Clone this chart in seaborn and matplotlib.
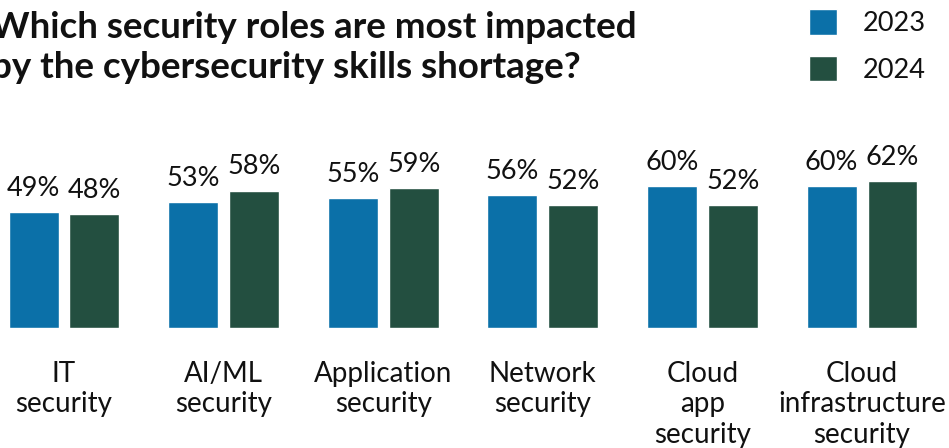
import matplotlib
matplotlib.use("Agg")
import matplotlib.pyplot as plt
import seaborn as sns
import pandas as pd

categories = ["IT\nsecurity", "AI/ML\nsecurity", "Application\nsecurity",
              "Network\nsecurity", "Cloud\napp\nsecurity", "Cloud\ninfrastructure\nsecurity"]
years = ["2023", "2024"]
values_2023 = [49, 53, 55, 56, 60, 60]
values_2024 = [48, 58, 59, 52, 52, 62]
colors = ["#0B70A8", "#234F40"]

df = pd.DataFrame({
    "role": categories * 2,
    "year": ["2023"] * len(categories) + ["2024"] * len(categories),
    "value": values_2023 + values_2024,
})

sns.set_theme(style="white")
plt.rcParams["font.family"] = ["Lato", "DejaVu Sans"]

fig = plt.figure(figsize=(9.49, 4.48), dpi=100)
ax = fig.add_axes([0, 0.268, 1, 0.37])

sns.barplot(data=df, x="role", y="value", hue="year", hue_order=years,
            palette=colors, width=0.764, gap=0.18, saturation=1, ax=ax,
            legend=True, errorbar=None)

ax.set_xlim(-0.401, 5.545)
ax.set_ylim(0, 70)
for c in ax.containers:
    ax.bar_label(c, labels=[f"{int(v)}%" for v in c.datavalues], padding=8,
                 fontsize=19.5, color="#111111", clip_on=False)

ax.set_xlabel("")
ax.set_ylabel("")
ax.set_yticks([])
ax.tick_params(axis="x", length=0, pad=24, labelsize=20, colors="#111111")
for lab in ax.get_xticklabels():
    lab.set_linespacing(1.2)
sns.despine(ax=ax, left=True, bottom=True)

leg = ax.legend(loc="upper left", bbox_to_anchor=(0.842, 1.0),
                bbox_transform=fig.transFigure, frameon=False, fontsize=19.5,
                handlelength=1.05, handleheight=1.05, handletextpad=0.95,
                labelspacing=0.72, borderpad=0.35, borderaxespad=0)
for t in leg.get_texts():
    t.set_color("#111111")

fig.text(-0.009, 0.975, "Which security roles are most impacted\nby the cybersecurity skills shortage?",
         ha="left", va="top", fontsize=26.5, fontweight="bold", color="#111111",
         linespacing=1.25)

fig.savefig("out.png", dpi=100)
